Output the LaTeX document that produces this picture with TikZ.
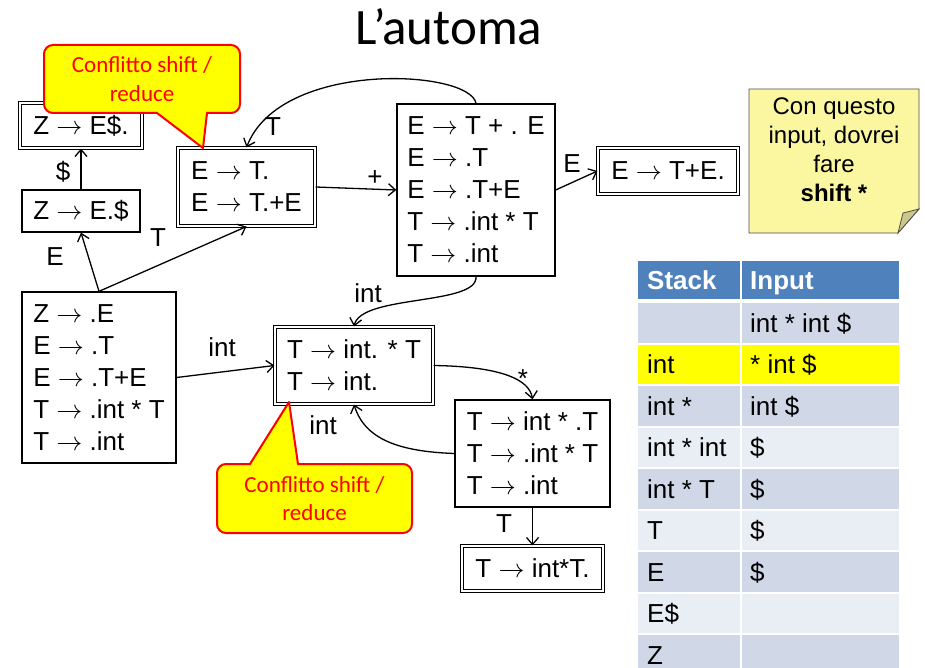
\RequirePackage{fix-cm}
\documentclass[tikz,border=0pt]{standalone}
\usepackage{fontspec}
\setmainfont{Liberation Sans}
\newfontfamily\calib{Carlito}
\usetikzlibrary{arrows.meta,calc}
\newcommand\myto{$\rightarrow$}
\definecolor{hdr}{HTML}{4F81BD}
\definecolor{rowd}{HTML}{D0D8E8}
\definecolor{rowl}{HTML}{E9EDF4}
\definecolor{hiy}{HTML}{FFFF00}
\definecolor{notey}{HTML}{FBF7A0}
\definecolor{notef}{HTML}{CCC78A}
\newcommand\trow[4]{%
  \fill[#2] (638,{303+41.5*(#1-1)}) rectangle (740,{342.5+41.5*(#1-1)});
  \fill[#2] (742,{303+41.5*(#1-1)}) rectangle (899,{342.5+41.5*(#1-1)});
  \node[cell] (s#1) at (647,{332+41.5*(#1-1)}) {#3};
  \node[cell] (i#1) at (750,{332+41.5*(#1-1)}) {#4};
}
\begin{document}
\begin{tikzpicture}[x=1pt,y=-1pt,
  state/.style={draw, line width=1.3pt, inner sep=0pt, align=left, font=\fontsize{26}{32}\selectfont},
  acc/.style={state, double, double distance=1.6pt, line width=1.1pt},
  lbl/.style={font=\fontsize{26}{32}\selectfont, inner sep=0pt},
  edge/.style={line width=1.3pt, -{Straight Barb[length=7pt,width=12pt,line width=1.3pt]}},
  cell/.style={anchor=base west, inner sep=0pt, font=\fontsize{26}{32}\selectfont},
  callout/.style={fill=hiy, draw=red, line width=2pt, rounded corners=9pt},
  calltext/.style={font=\calib\fontsize{23}{28.5}\selectfont, text=red, align=center, inner sep=0pt}
]
\useasboundingbox (0,0) rectangle (925,668);

% title
\node[font=\calib\fontsize{51}{60}\selectfont, anchor=base, inner sep=0pt] (title) at (449,45) {L’automa};

% states
\node[acc, minimum width=122pt, minimum height=45pt] (zes) at (81,125.5) {Z \myto{} E\$.};
\node[state, minimum width=118pt, minimum height=42pt] (zed) at (81,211) {Z \myto{} E.\$};
\node[acc, minimum width=137pt, minimum height=78pt] (et) at (246.5,187) {E \myto{} T.\\E \myto{} T.+E};
\node[state, minimum width=154pt, minimum height=171pt] (z0) at (99,377.5) {Z \myto{} .E\\E \myto{} .T\\E \myto{} .T+E\\T \myto{} .int * T\\T \myto{} .int};
\node[state, minimum width=158pt, minimum height=172pt] (etp) at (476,190) {E \myto{} T + . E\\E \myto{} .T\\E \myto{} .T+E\\T \myto{} .int * T\\T \myto{} .int};
\node[acc, minimum width=140pt, minimum height=46pt] (ete) at (668,171) {E \myto{} T+E.};
\node[acc, minimum width=158pt, minimum height=77pt] (ti) at (354,365.5) {T \myto{} int. * T\\T \myto{} int.};
\node[state, minimum width=155pt, minimum height=107pt] (tis) at (532.5,453.5) {T \myto{} int * .T\\T \myto{} .int * T\\T \myto{} .int};
\node[acc, minimum width=141pt, minimum height=45pt] (tit) at (532.5,568.5) {T \myto{} int*T.};

% edges
\draw[edge] (zed.north) -- (zes.south);
\draw[edge] (z0.north) -- (zed.south);
\draw[edge] (z0.north) -- (et.south);
\draw[edge] (et.east) -- (etp.west);
\draw[edge] (etp.north) .. controls +(-6,-34) and +(34,-88) .. (et.north);
\draw[edge] (etp.east) -- (ete.west);
\draw[edge] (etp.south) .. controls +(2,29) and +(7,-32) .. (ti.north);
\draw[edge] (z0.east) -- (ti.west);
\draw[edge] (ti.east) .. controls +(67,1) and +(-3,-20) .. (tis.north);
\draw[edge] (tis.west) .. controls +(-55,-2) and +(11,35) .. (ti.south);
\draw[edge] (tis.south) -- (tit.north);

% edge labels
\node[lbl] (l1) at (63,172) {\$};
\node[lbl] (l2) at (55,257) {E};
\node[lbl] (l3) at (158,238) {T};
\node[lbl] (l4) at (273,127) {T};
\node[lbl] (l5) at (375,178) {+};
\node[lbl] (l6) at (572,164) {E};
\node[lbl] (l7) at (368,293) {int};
\node[lbl] (l8) at (222,347) {int};
\node[lbl] (l9) at (523,379) {*};
\node[lbl] (l10) at (323,425) {int};
\node[lbl] (l11) at (504,524) {T};

% callout 1
\draw[callout] (44,45) rectangle (240,113);
\fill[hiy] (157,113) -- (203,148) -- (207,113) -- cycle;
\fill[hiy] (158,110.5) rectangle (206,114.5);
\draw[red, line width=2pt, line join=round] (157,113) -- (203,148) -- (207,113);
\node[calltext] (c1) at (142,79) {Conflitto shift /\\reduce};

% callout 2
\draw[callout] (217,464) rectangle (412,533);
\fill[hiy] (250,464) -- (289,402) -- (298,464) -- cycle;
\fill[hiy] (251,461.5) rectangle (297,465.5);
\draw[red, line width=2pt, line join=round] (250,464) -- (289,402) -- (298,464);
\node[calltext] (c2) at (314.5,498.5) {Conflitto shift /\\reduce};

% sticky note
\filldraw[fill=notey, draw=black!70, line width=0.8pt] (749,89) -- (919,89) -- (919,209) -- (898,233) -- (749,233) -- cycle;
\filldraw[fill=notef, draw=black!70, line width=0.8pt] (898,233) -- (903,213) -- (919,209) -- cycle;
\node[font=\fontsize{24}{29}\selectfont, align=center, inner sep=0pt] (note) at (834,150) {Con questo\\input, dovrei\\fare\\\textbf{shift *}};

% table
\fill[hdr] (638,261) rectangle (740,299);
\fill[hdr] (742,261) rectangle (899,299);
\node[cell, text=white, font=\bfseries\fontsize{26}{32}\selectfont] (hs) at (647,289.3) {Stack};
\node[cell, text=white, font=\bfseries\fontsize{26}{32}\selectfont] (hi) at (750,289.3) {Input};
\trow{1}{rowd}{}{int * int \$}
\trow{2}{hiy}{int}{* int \$}
\trow{3}{rowd}{int *}{int \$}
\trow{4}{rowl}{int * int}{\$}
\trow{5}{rowd}{int * T}{\$}
\trow{6}{rowl}{T}{\$}
\trow{7}{rowd}{E}{\$}
\trow{8}{rowl}{E\$}{}
\trow{9}{rowd}{Z}{}
\end{tikzpicture}
\end{document}
